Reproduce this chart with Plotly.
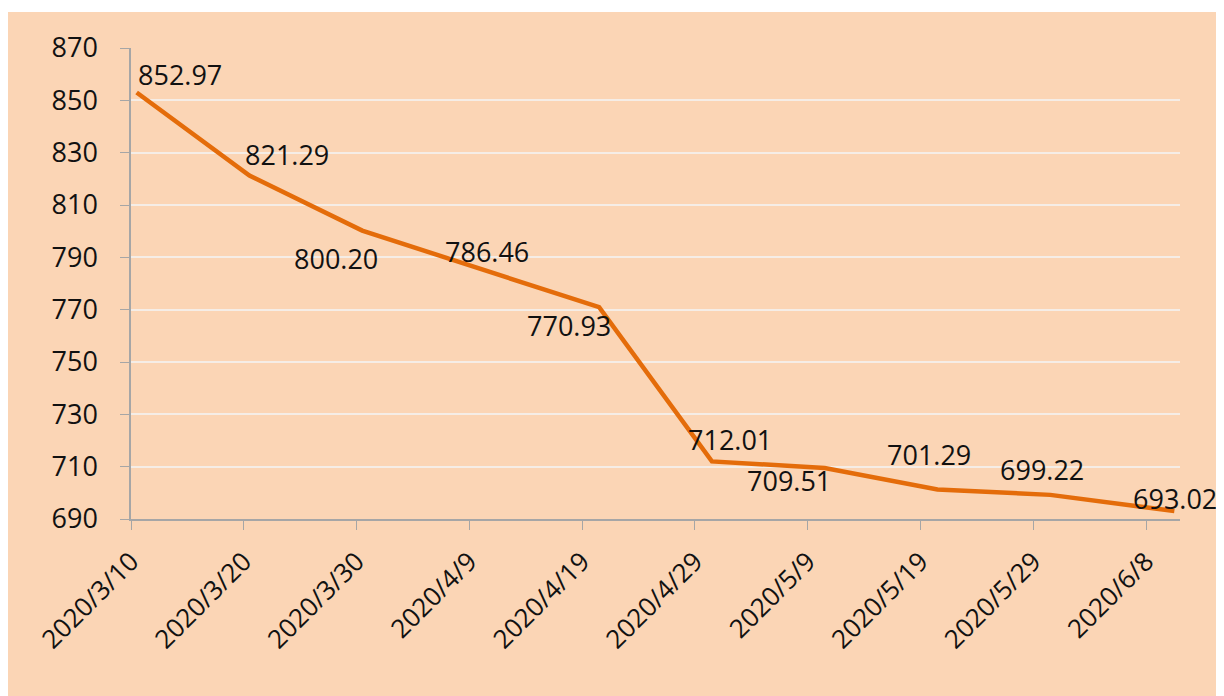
import plotly.graph_objects as go
import pandas as pd

dates = ["2020-03-10", "2020-03-20", "2020-03-30", "2020-04-09", "2020-04-20",
         "2020-04-30", "2020-05-10", "2020-05-20", "2020-05-30", "2020-06-10"]
values = [852.97, 821.29, 800.20, 786.46, 770.93, 712.01, 709.51, 701.29, 699.22, 693.02]
tick_dates = ["2020-03-10", "2020-03-20", "2020-03-30", "2020-04-09", "2020-04-19",
              "2020-04-29", "2020-05-09", "2020-05-19", "2020-05-29", "2020-06-08"]
tick_labels = ["2020/3/10", "2020/3/20", "2020/3/30", "2020/4/9", "2020/4/19",
               "2020/4/29", "2020/5/9", "2020/5/19", "2020/5/29", "2020/6/8"]
y_ticks = [690, 710, 730, 750, 770, 790, 810, 830, 850, 870]

# label offsets (px) relative to each point: style only
label_dx = [43, 38, -26, 12, -30, 18, -36, -8, -8, 1]
label_dy = [18, 21, -28, 15, -18, 22, -13, 35, 25, 13]

# Excel date axis: points sit in the middle of their day slot
x_pts = [pd.Timestamp(d) + pd.Timedelta(hours=12) for d in dates]

FONT = "Open Sans"
PEACH = "#FBD5B5"

fig = go.Figure()
fig.add_trace(go.Scatter(
    x=x_pts, y=values, mode="lines",
    line=dict(color="#E46C0A", width=4.5),
    hoverinfo="skip", showlegend=False,
))

for x, v, dx, dy in zip(x_pts, values, label_dx, label_dy):
    fig.add_annotation(x=x, y=v, text=f"{v:.2f}", showarrow=False,
                       xshift=dx, yshift=dy, xanchor="center", yanchor="middle",
                       font=dict(family=FONT, size=27, color="#111111"))

# the page body has an 8px margin, so the figure is 1216x688
W, H = 1216, 688
L, R, T, B = 123, 44, 40, 177
pw, ph = W - L - R, H - T - B

# thin white strip at the top of the panel
fig.add_shape(type="rect", xref="paper", yref="paper", layer="below",
              x0=-L / pw - 0.05, x1=(W - L) / pw + 0.05,
              y0=(H - 4 - B) / ph, y1=(H - B) / ph + 0.05,
              fillcolor="white", line=dict(width=0))

fig.update_layout(
    width=W, height=H,
    margin=dict(l=L, r=R, t=T, b=B),
    paper_bgcolor=PEACH,
    plot_bgcolor=PEACH,
    font=dict(family=FONT, size=27, color="#111111"),
    xaxis=dict(
        type="date",
        range=["2020-03-10", "2020-06-11"],
        tickmode="array", tickvals=tick_dates, ticktext=tick_labels,
        tickangle=-45, ticks="outside", ticklen=9, tickcolor="#A6A6A6",
        showline=True, linecolor="#A6A6A6", linewidth=1.5,
        showgrid=False, zeroline=False, ticklabelstandoff=6,
        tickfont=dict(family=FONT, size=26, color="#111111"),
    ),
    yaxis=dict(
        range=[690, 870],
        tickmode="array", tickvals=y_ticks,
        ticks="outside", ticklen=9, tickcolor="#A6A6A6",
        showline=True, linecolor="#A6A6A6", linewidth=1.5,
        showgrid=True, gridcolor="#F5EDE6", gridwidth=1.5,
        zeroline=False, ticklabelstandoff=17,
        tickfont=dict(family=FONT, size=27, color="#111111"),
    ),
)

fig.write_html("out.html")
